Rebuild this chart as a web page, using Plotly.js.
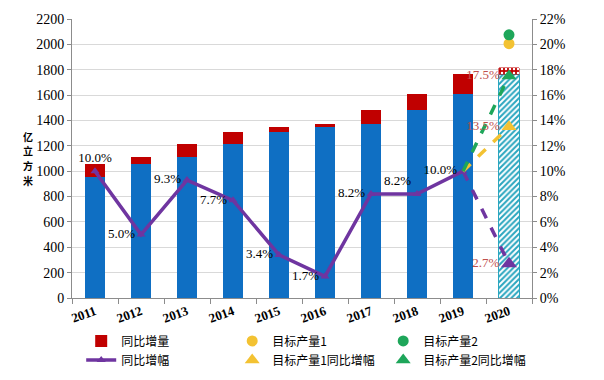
<!DOCTYPE html>
<html>
<head>
<meta charset="utf-8">
<script src="https://cdn.plot.ly/plotly-3.0.1.min.js"></script>
<style>html,body{margin:0;padding:0;background:#fff}#chart{width:604px;height:380px}</style>
</head>
<body>
<div id="chart"></div>
<script>
// ---- data ----
var years = ['2011','2012','2013','2014','2015','2016','2017','2018','2019','2020'];
var histYears = ['2011','2012','2013','2014','2015','2016','2017','2018','2019'];
// previous-year output (blue part), 亿立方米
var baseOutput = [955, 1055, 1108, 1212, 1306, 1350, 1372, 1484, 1606];
// year-on-year increment (red part), 亿立方米
var increment = [100, 53, 105, 95, 44, 22, 112, 122, 160];
// year-on-year growth rate, %
var growth = [10.0, 5.0, 9.3, 7.7, 3.4, 1.7, 8.2, 8.2, 10.0];
var growthLabels = ['10.0%','5.0%','9.3%','7.7%','3.4%','1.7%','8.2%','8.2%','10.0%'];
// 2020
var base2020 = [1766];
var inc2020 = [48];
var growth2020 = [2.7];
var target1 = [2005];
var target2 = [2075];
var target1Growth = [13.5];
var target2Growth = [17.5];
// vertical axis title, one character per line
var yTitleChars = ['亿','立','方','米'];

var serif = 'Liberation Serif, Times New Roman, serif';
var cjk = 'Noto Sans CJK SC, sans-serif';
var blue = '#0f6fc3', red = '#c00000', purple = '#6f35a0', yellow = '#f3c232', green = '#1ea65a', teal = '#2aa6bf', labelRed = '#c0504d';
var labelPos = ['top center','middle left','middle left','middle left','middle left','middle left','middle left','top left','middle left'];

var traces = [
  {type:'bar', x:histYears, y:baseOutput, marker:{color:blue}, width:0.44, showlegend:false, hoverinfo:'y'},
  {type:'bar', x:histYears, y:increment, marker:{color:red}, width:0.44, name:'同比增量', legendrank:1},
  {type:'bar', x:[years[9]], y:base2020, width:0.44, showlegend:false,
   marker:{color:'#ffffff', line:{color:teal, width:1}, pattern:{shape:'/', fgcolor:teal, bgcolor:'#ffffff', size:4, solidity:0.5}}},
  {type:'bar', x:[years[9]], y:inc2020, width:0.44, showlegend:false,
   marker:{color:red, line:{color:red, width:0.5}, pattern:{shape:'.', fgcolor:'#ffffff', bgcolor:red, size:4, solidity:0.3}}},
  {type:'scatter', mode:'markers', x:[years[9]], y:target1, marker:{color:yellow, size:11, symbol:'circle'}, name:'目标产量1', legendrank:2},
  {type:'scatter', mode:'markers', x:[years[9]], y:target2, marker:{color:green, size:11, symbol:'circle'}, name:'目标产量2', legendrank:3},
  {type:'scatter', mode:'lines+markers+text', x:histYears, y:growth, yaxis:'y2', name:'同比增幅', legendrank:4,
   line:{color:purple, width:3.5}, marker:{color:purple, size:8, symbol:'triangle-up'},
   text:growthLabels, textposition:labelPos, textfont:{family:serif, size:13, color:'#000'}},
  {type:'scatter', mode:'lines', x:[years[8], years[9]], y:[growth[8], growth2020[0]], yaxis:'y2', showlegend:false,
   line:{color:purple, width:3.5, dash:'dash'}},
  {type:'scatter', mode:'lines', x:[years[8], years[9]], y:[growth[8], target1Growth[0]], yaxis:'y2', showlegend:false,
   line:{color:yellow, width:3.5, dash:'dash'}},
  {type:'scatter', mode:'lines', x:[years[8], years[9]], y:[growth[8], target2Growth[0]], yaxis:'y2', showlegend:false,
   line:{color:green, width:3.5, dash:'dash'}},
  {type:'scatter', mode:'markers+text', x:[years[9]], y:growth2020, yaxis:'y2', showlegend:false,
   marker:{color:purple, size:14, symbol:'triangle-up'},
   text:[growth2020[0].toFixed(1)+'%'], textposition:'middle left', textfont:{family:serif, size:13, color:labelRed}},
  {type:'scatter', mode:'markers+text', x:[years[9]], y:target1Growth, yaxis:'y2', name:'目标产量1同比增幅', legendrank:5,
   marker:{color:yellow, size:13, symbol:'triangle-up'},
   text:[target1Growth[0].toFixed(1)+'%'], textposition:'middle left', textfont:{family:serif, size:13, color:labelRed}},
  {type:'scatter', mode:'markers+text', x:[years[9]], y:target2Growth, yaxis:'y2', name:'目标产量2同比增幅', legendrank:6,
   marker:{color:green, size:13, symbol:'triangle-up'},
   text:[target2Growth[0].toFixed(1)+'%'], textposition:'middle left', textfont:{family:serif, size:13, color:labelRed}}
];

var axisCol = '#8c8c8c';
// paper-y positions of each title character (layout, not data)
var charY = [0.580, 0.527, 0.474, 0.421];
var annotations = yTitleChars.map(function(c, i){
  return {text:c, xref:'paper', yref:'paper', x:-0.096, y:charY[i], xanchor:'center', yanchor:'middle',
          showarrow:false, font:{family:cjk, size:10, color:'#000', weight:'bold'}};
});

var layout = {
  width:604, height:380,
  margin:{l:72, r:72, t:19, b:82, autoexpand:false},
  paper_bgcolor:'#fff', plot_bgcolor:'#fff',
  barmode:'stack',
  showlegend:true,
  xaxis:{type:'category', categoryarray:years, range:[-0.5, 9.5], showline:true, linecolor:axisCol, linewidth:1,
         ticks:'outside', tickson:'boundaries', ticklen:5, tickcolor:axisCol, tickangle:-20,
         tickfont:{family:serif, size:13, color:'#000', weight:'bold'}, showgrid:false, zeroline:false},
  yaxis:{range:[0,2200], dtick:200, showline:true, linecolor:axisCol, ticks:'outside', ticklen:4, tickcolor:axisCol,
         gridcolor:'#d9d9d9', zeroline:false, tickfont:{family:serif, size:14, color:'#000'}},
  yaxis2:{range:[0,22], dtick:2, ticksuffix:'%', overlaying:'y', side:'right', showline:true, linecolor:axisCol,
          ticks:'outside', ticklen:4, tickcolor:axisCol, showgrid:false, zeroline:false,
          tickfont:{family:serif, size:14, color:'#000'}},
  legend:{orientation:'h', x:0.02, xanchor:'left', y:-0.102, yanchor:'top', entrywidth:106, entrywidthmode:'pixels',
          font:{family:cjk, size:12, color:'#000'}, traceorder:'normal', itemwidth:30, bgcolor:'rgba(0,0,0,0)'},
  annotations:annotations
};

Plotly.newPlot('chart', traces, layout, {displayModeBar:false, staticPlot:true});
</script>
</body>
</html>
